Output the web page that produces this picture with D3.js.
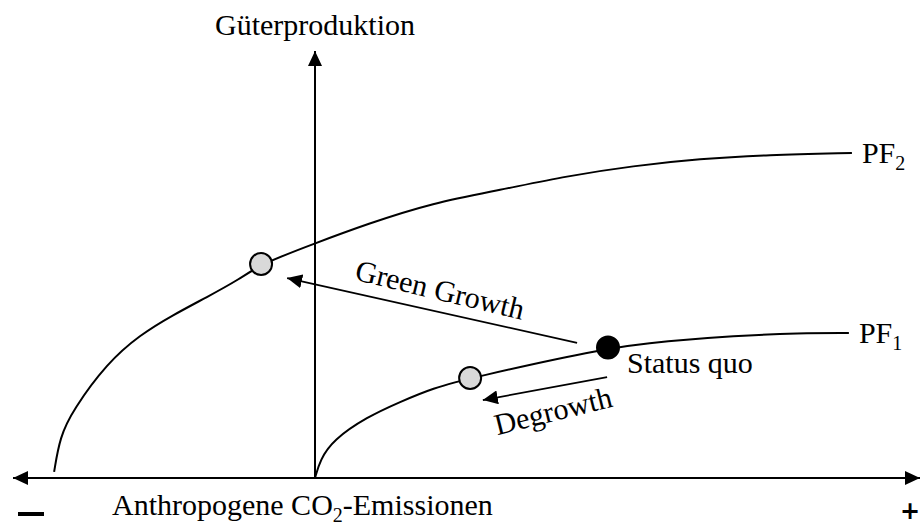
<!DOCTYPE html>
<html>
<head>
<meta charset="utf-8">
<script src="https://cdn.jsdelivr.net/npm/d3@7"></script>
<style>
  body { margin: 0; background: #fff; }
  text { font-family: "Liberation Serif", "Times New Roman", serif; fill: #000; }
</style>
</head>
<body>
<div class="chart"></div>
<script>
// Step 0: data (abstract units, origin where the axes cross)
//= ================================
var pf2X = [-8.61, -8.42, -7.99, -6.86, -5.78, -4.69, -3.56, -2.48, -1.78, -0.07, 1.72, 3.89, 6.11, 8.32, 10.5, 12.71, 14.92, 17.72];
var pf2Y = [0.2, 1.34, 2.22, 3.76, 4.68, 5.33, 5.92, 6.51, 7.0, 7.65, 8.31, 9.0, 9.42, 9.88, 10.21, 10.44, 10.57, 10.63];

var pf1X = [0, 0.17, 0.59, 1.72, 2.81, 3.89, 5.12, 9.67, 11.62, 13.8, 16.01, 17.62];
var pf1Y = [0, 0.59, 1.24, 2.0, 2.49, 2.94, 3.27, 4.27, 4.48, 4.65, 4.74, 4.74];

// circles: new PF2 point, degrowth point, status quo
var pointX = [-1.78, 5.12, 9.67];
var pointY = [7.0, 3.27, 4.27];
var pointKind = ["new", "new", "now"];

// movement arrows: [x, y] where they start and where the head is
var arrowNames = ["Green Growth", "Degrowth"];
var arrowFrom = [[8.65, 4.42], [9.64, 3.3]];
var arrowTo = [[-0.92, 6.54], [5.54, 2.55]];

var curveNames = ["PF", "PF"];
var curveSubs = ["2", "1"];
var yTitle = "Güterproduktion";
var xTitle = ["Anthropogene CO", "2", "-Emissionen"];

// Step 1: set up the drawing
//= ================================
var svgWidth = 922;
var svgHeight = 525;

var svg = d3
  .select(".chart")
  .append("svg")
  .attr("width", svgWidth)
  .attr("height", svgHeight);

var xScale = d3.scaleLinear().domain([-10, 20]).range([12, 921]);
var yScale = d3.scaleLinear().domain([0, 14]).range([478, 50]);

// arrowhead marker, tip sits on the end of the line
svg.append("defs")
  .append("marker")
  .attr("id", "head")
  .attr("markerUnits", "userSpaceOnUse")
  .attr("markerWidth", 16)
  .attr("markerHeight", 14)
  .attr("refX", 15)
  .attr("refY", 7)
  .attr("orient", "auto-start-reverse")
  .append("path")
  .attr("d", "M0,0 L15,7 L0,14 Z")
  .attr("fill", "#000");

var chart = svg.append("g");

// Step 2: axes
//= ================================
chart.append("line")
  .attr("x1", xScale(-10) + 1)
  .attr("x2", xScale(20) - 1)
  .attr("y1", yScale(0))
  .attr("y2", yScale(0))
  .attr("stroke", "#000")
  .attr("stroke-width", 2)
  .attr("marker-start", "url(#head)")
  .attr("marker-end", "url(#head)");

chart.append("line")
  .attr("x1", xScale(0))
  .attr("x2", xScale(0))
  .attr("y1", yScale(0))
  .attr("y2", yScale(14) + 1)
  .attr("stroke", "#000")
  .attr("stroke-width", 2)
  .attr("marker-end", "url(#head)");

// Step 3: production frontiers
//= ================================
var line = d3.line()
  .x(function(d) { return xScale(d[0]); })
  .y(function(d) { return yScale(d[1]); })
  .curve(d3.curveBasis);

var curves = [d3.zip(pf2X, pf2Y), d3.zip(pf1X, pf1Y)];

chart.selectAll(".pf")
  .data(curves)
  .enter()
  .append("path")
  .attr("class", "pf")
  .attr("d", line)
  .attr("fill", "none")
  .attr("stroke", "#000")
  .attr("stroke-width", 2);

// curve labels PF2 / PF1
chart.selectAll(".pf-label")
  .data(curves)
  .enter()
  .append("text")
  .attr("class", "pf-label")
  .attr("x", function(d) { return xScale(d[d.length - 1][0]) + 10; })
  .attr("y", function(d) { return yScale(d[d.length - 1][1]) + 10; })
  .style("font-size", "30px")
  .each(function(d, i) {
    var t = d3.select(this);
    t.append("tspan").text(curveNames[i]);
    t.append("tspan").attr("dy", 7).style("font-size", "20px").text(curveSubs[i]);
  });

// Step 4: movement arrows and their labels
//= ================================
chart.selectAll(".move")
  .data(arrowFrom)
  .enter()
  .append("line")
  .attr("class", "move")
  .attr("x1", function(d) { return xScale(d[0]); })
  .attr("y1", function(d) { return yScale(d[1]); })
  .attr("x2", function(d, i) { return xScale(arrowTo[i][0]); })
  .attr("y2", function(d, i) { return yScale(arrowTo[i][1]); })
  .attr("stroke", "#000")
  .attr("stroke-width", 1.7)
  .attr("marker-end", "url(#head)");

// label offsets from the arrow middle, and their tilt
var labelShift = [[8, -21], [8, 22]];
var labelTilt = [13.5, -14];

chart.selectAll(".move-label")
  .data(arrowNames)
  .enter()
  .append("text")
  .attr("class", "move-label")
  .attr("text-anchor", "middle")
  .attr("dominant-baseline", "central")
  .style("font-size", "30px")
  .attr("transform", function(d, i) {
    var mx = (xScale(arrowFrom[i][0]) + xScale(arrowTo[i][0])) / 2 + labelShift[i][0];
    var my = (yScale(arrowFrom[i][1]) + yScale(arrowTo[i][1])) / 2 + labelShift[i][1];
    return "translate(" + mx + "," + my + ") rotate(" + labelTilt[i] + ")";
  })
  .text(function(d) { return d; });

// Step 5: points on the frontiers
//= ================================
chart.selectAll("circle")
  .data(pointX)
  .enter()
  .append("circle")
  .attr("cx", function(d) { return xScale(d); })
  .attr("cy", function(d, i) { return yScale(pointY[i]); })
  .attr("r", 11)
  .attr("fill", function(d, i) { return pointKind[i] === "now" ? "#000" : "#d9d9d9"; })
  .attr("stroke", "#000")
  .attr("stroke-width", 2);

chart.append("text")
  .attr("x", xScale(pointX[2]) + 19)
  .attr("y", yScale(pointY[2]) + 26)
  .style("font-size", "30px")
  .text("Status quo");

// Step 6: axis titles and signs
//= ================================
chart.append("text")
  .attr("x", xScale(0))
  .attr("y", 35)
  .attr("text-anchor", "middle")
  .style("font-size", "30px")
  .text(yTitle);

var xt = chart.append("text")
  .attr("x", 112)
  .attr("y", 515)
  .style("font-size", "30px");
xt.append("tspan").text(xTitle[0]);
xt.append("tspan").attr("dy", 7).style("font-size", "20px").text(xTitle[1]);
xt.append("tspan").attr("dy", -7).text(xTitle[2]);

chart.append("rect")
  .attr("x", 18)
  .attr("y", 512)
  .attr("width", 26)
  .attr("height", 4)
  .attr("fill", "#000");

chart.append("text")
  .attr("x", 910)
  .attr("y", 519)
  .attr("text-anchor", "middle")
  .style("font-family", "'DejaVu Sans', sans-serif")
  .style("font-weight", "bold")
  .style("font-size", "24px")
  .text("+");
</script>
</body>
</html>
